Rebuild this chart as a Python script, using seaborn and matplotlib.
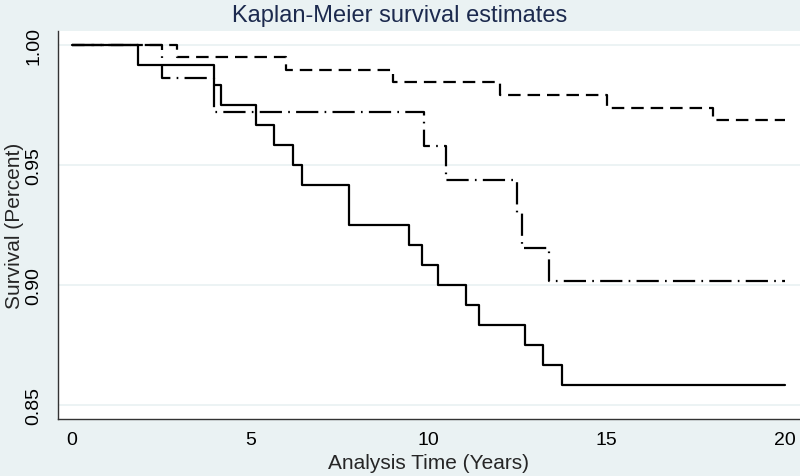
import numpy as np
import pandas as pd
import matplotlib.pyplot as plt
import seaborn as sns

# Kaplan-Meier steps: time of each drop (years) and survival after it.
# The last entry of each group just carries the curve to the end of follow-up.
groups = ["Group 1", "Group 2", "Group 3"]

g1_time = [0, 1.85, 3.98, 4.17, 5.16, 5.67, 6.21, 6.46, 7.77, 9.46, 9.81,
           10.28, 11.04, 11.42, 12.71, 13.20, 13.74, 20]
g1_surv = [1.0, 0.9917, 0.9833, 0.9750, 0.9667, 0.9583, 0.9500, 0.9417, 0.9250,
           0.9167, 0.9083, 0.9000, 0.8917, 0.8833, 0.8750, 0.8667, 0.8583, 0.8583]

g2_time = [0, 2.95, 6.00, 9.00, 12.00, 15.00, 17.98, 20]
g2_surv = [1.0, 0.9947, 0.9895, 0.9843, 0.9790, 0.9738, 0.9686, 0.9686]

g3_time = [0, 2.54, 3.98, 9.87, 10.48, 12.49, 12.61, 13.38, 20]
g3_surv = [1.0, 0.9860, 0.9718, 0.9580, 0.9437, 0.9300, 0.9156, 0.9017, 0.9017]

x_ticks = [0, 5, 10, 15, 20]
y_ticks = [0.85, 0.90, 0.95, 1.00]

df = pd.concat([
    pd.DataFrame({"time": g1_time, "surv": g1_surv, "group": groups[0]}),
    pd.DataFrame({"time": g2_time, "surv": g2_surv, "group": groups[1]}),
    pd.DataFrame({"time": g3_time, "surv": g3_surv, "group": groups[2]}),
], ignore_index=True)

sns.set_style("white")
plt.rcParams["font.family"] = ["Liberation Sans", "DejaVu Sans"]
plt.rcParams["lines.scale_dashes"] = False

bg = "#EAF2F3"
axis_col = "#333333"

fig = plt.figure(figsize=(8, 4.77), dpi=100)
fig.patch.set_facecolor(bg)
ax = fig.add_axes([58 / 800, 1 - 420 / 477, 742 / 800, 388 / 477])
ax.set_facecolor("white")

# one line style per group, like Stata's default KM lines
styles = {groups[0]: "", groups[1]: (9, 5), groups[2]: (16, 4.5, 1.2, 4.5)}
sns.lineplot(data=df, x="time", y="surv", style="group", style_order=groups,
             dashes=styles, color="black", lw=1.6, drawstyle="steps-post",
             estimator=None, sort=False, legend=False, ax=ax)

ax.set_xlim(-0.39, 20.42)
ax.set_ylim(0.8443, 1.0057)
ax.set_xticks(x_ticks)
ax.set_yticks(y_ticks)
ax.set_yticklabels([f"{v:.2f}" for v in y_ticks], rotation=90, va="center")

ax.yaxis.grid(True, color=bg, lw=1.3)
ax.xaxis.grid(False)
ax.set_axisbelow(True)

for s in ["top", "right"]:
    ax.spines[s].set_visible(False)
for s in ["left", "bottom"]:
    ax.spines[s].set_color(axis_col)
    ax.spines[s].set_linewidth(1.0)

ax.tick_params(axis="both", direction="out", length=6, width=1, color=axis_col,
               labelsize=14, labelcolor="black")
ax.tick_params(axis="x", pad=3)
ax.tick_params(axis="y", pad=5)

ax.set_xlabel("Analysis Time (Years)", fontsize=15)
ax.set_ylabel("Survival (Percent)", fontsize=15)
ax.xaxis.label.set_va("center")
ax.yaxis.label.set_va("center")
ax.xaxis.set_label_coords(0.5, -0.113)
ax.yaxis.set_label_coords(-0.058, 0.5)

fig.suptitle("Kaplan-Meier survival estimates", x=0.5, y=0.99, va="top",
             fontsize=17, color="#1C2A4E")

fig.savefig("out.png", dpi=100, facecolor=bg)
